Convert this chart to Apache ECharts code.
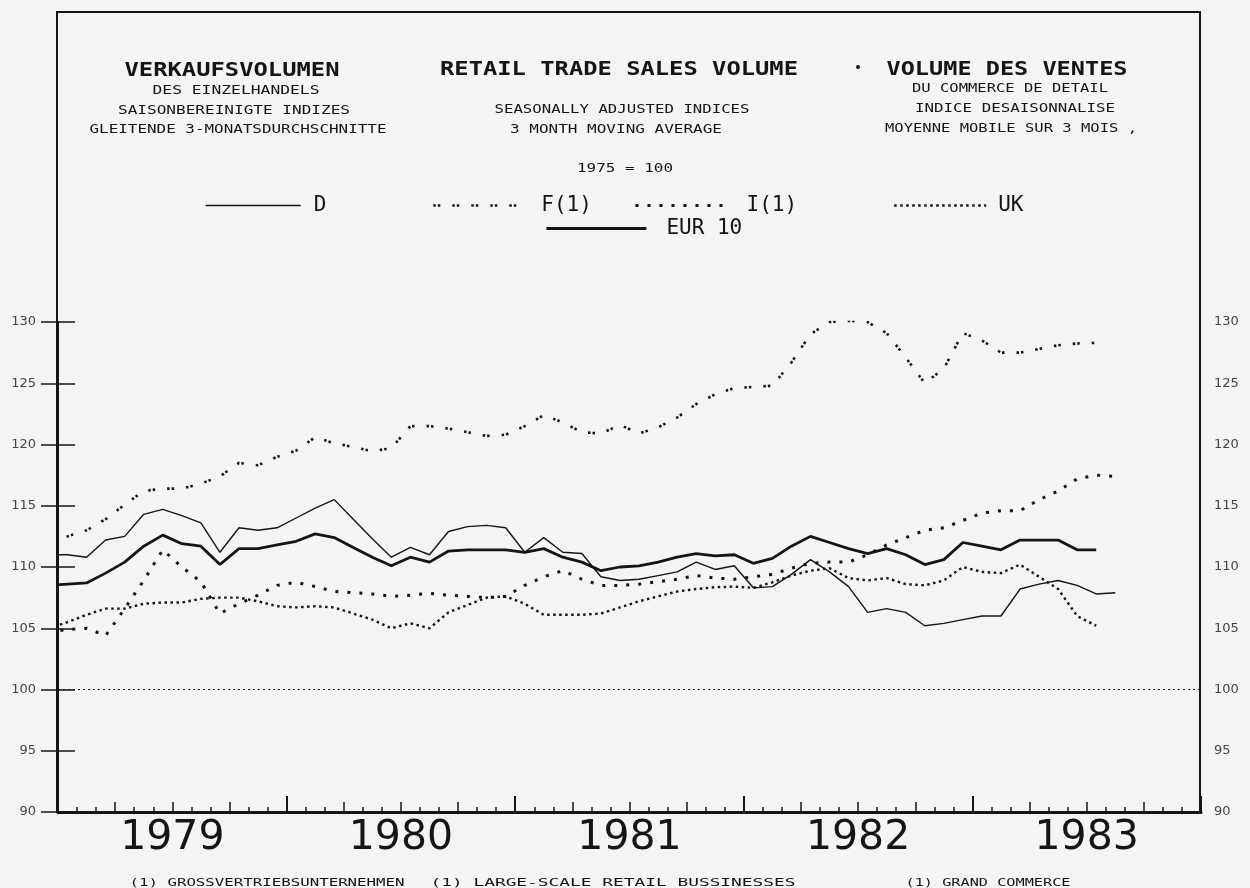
<!DOCTYPE html>
<html lang="en">
<head>
<meta charset="utf-8">
<title>Retail trade sales volume</title>
<script src="https://cdn.jsdelivr.net/npm/echarts@6/dist/echarts.min.js"></script>
<style>html,body{margin:0;padding:0;background:#f4f4f4;}</style>
</head>
<body>
<div id="main" style="width:1250px;height:888px;"></div>
<script>
// monthly points, mid-month; index 0 = Dec 1978, index 1 = Jan 1979 ...
var years = ['1979', '1980', '1981', '1982', '1983'];

var valuesD = [111.0, 111.0, 110.8, 112.2, 112.5, 114.3, 114.7, 114.2, 113.6, 111.2,
    113.2, 113.0, 113.2, 114.0, 114.8, 115.5, 113.9, 112.3, 110.8, 111.6,
    111.0, 112.9, 113.3, 113.4, 113.2, 111.2, 112.4, 111.2, 111.1, 109.2,
    108.9, 109.0, 109.3, 109.6, 110.4, 109.8, 110.1, 108.3, 108.4, 109.4,
    110.6, 109.6, 108.4, 106.3, 106.6, 106.3, 105.2, 105.4, 105.7, 106.0,
    106.0, 108.2, 108.6, 108.9, 108.5, 107.8, 107.9];

var valuesF = [112.0, 112.5, 113.0, 113.9, 115.1, 116.2, 116.4, 116.4, 116.8, 117.4,
    118.5, 118.3, 119.0, 119.5, 120.6, 120.1, 119.8, 119.45, 119.7, 121.5,
    121.5, 121.3, 121.0, 120.7, 120.8, 121.5, 122.4, 121.8, 121.0, 120.9,
    121.6, 120.9, 121.4, 122.2, 123.3, 124.1, 124.6, 124.7, 124.8, 126.7,
    129.0, 130.0, 130.1, 130.0, 129.1, 127.1, 125.0, 126.2, 129.1, 128.5,
    127.5, 127.5, 127.8, 128.1, 128.25, 128.3];

var valuesI = [104.7, 104.9, 105.0, 104.4, 106.6, 108.9, 111.4, 110.0, 108.8, 106.2,
    107.0, 107.7, 108.5, 108.75, 108.4, 108.0, 107.9, 107.8, 107.6, 107.7,
    107.85, 107.7, 107.6, 107.5, 107.6, 108.5, 109.2, 109.7, 109.0, 108.5,
    108.5, 108.6, 108.8, 109.0, 109.3, 109.1, 109.0, 109.2, 109.4, 109.9,
    110.3, 110.4, 110.4, 111.0, 111.8, 112.4, 113.0, 113.2, 113.8, 114.4,
    114.6, 114.6, 115.5, 116.2, 117.2, 117.5, 117.4];

var valuesUK = [105.0, 105.5, 106.1, 106.6, 106.6, 107.0, 107.1, 107.1, 107.4, 107.5,
    107.5, 107.2, 106.8, 106.7, 106.8, 106.7, 106.2, 105.7, 105.0, 105.4,
    105.0, 106.3, 106.9, 107.5, 107.6, 107.0, 106.1, 106.1, 106.1, 106.2,
    106.7, 107.2, 107.6, 108.0, 108.2, 108.35, 108.4, 108.3, 108.75, 109.3,
    109.7, 109.9, 109.1, 108.9, 109.1, 108.6, 108.5, 108.9, 110.0, 109.6,
    109.5, 110.2, 109.2, 108.2, 106.0, 105.2];

var valuesEUR = [108.5, 108.6, 108.7, 109.5, 110.4, 111.7, 112.6, 111.9, 111.7, 110.2,
    111.5, 111.5, 111.8, 112.1, 112.7, 112.4, 111.6, 110.8, 110.1, 110.8,
    110.4, 111.3, 111.4, 111.4, 111.4, 111.2, 111.5, 110.8, 110.4, 109.7,
    110.0, 110.1, 110.4, 110.8, 111.1, 110.9, 111.0, 110.3, 110.7, 111.7,
    112.5, 112.0, 111.5, 111.1, 111.5, 111.0, 110.2, 110.6, 112.0, 111.7,
    111.4, 112.2, 112.2, 112.2, 111.4, 111.4];

function toPoints(vals) {
    return vals.map(function (v, i) { return [i - 0.5, v]; });
}

var INK = '#151515';
var MONO = '"DejaVu Sans Mono", monospace';

// text stretched horizontally to a measured width
function txt(text, cx, cy, w, size, weight) {
    var natural = text.length * 0.602 * size;
    return {
        type: 'text', x: cx, y: cy, scaleX: w / natural, silent: true,
        style: {
            text: text, font: (weight || 'normal') + ' ' + size + 'px ' + MONO,
            fill: INK, textAlign: 'center', textVerticalAlign: 'middle', verticalAlign: 'middle'
        }
    };
}

function leg(name, left, top, w, lw, gap) {
    return {
        data: [name], left: left, top: top, itemWidth: w, itemHeight: 14, padding: 0,
        selectedMode: false, lineStyle: { width: lw }, itemStyle: { opacity: 0 },
        textStyle: { fontFamily: MONO, fontSize: 21, color: INK, padding: [0, 0, 0, gap] }
    };
}

function xTicks(interval, len, width) {
    return {
        type: 'value', position: 'bottom', min: 0, max: 60, interval: interval,
        axisLine: { show: false }, splitLine: { show: false }, axisLabel: { show: false },
        axisTick: { inside: true, length: len, lineStyle: { color: INK, width: width } }
    };
}

function yAxisAt(pos, margin) {
    return {
        type: 'value', position: pos, min: 90, max: 130, interval: 5,
        axisLine: { show: true, lineStyle: { color: INK, width: 2 } },
        axisTick: { inside: true, length: 17, lineStyle: { color: INK, width: 1.5 } },
        axisLabel: { margin: margin, fontFamily: 'DejaVu Sans', fontSize: 13, color: '#444' },
        splitLine: { show: false }
    };
}

var chart = echarts.init(document.getElementById('main'));

var option = {
    backgroundColor: '#f4f4f4',
    animation: false,
    grid: { left: 58, right: 49, top: 322, bottom: 76 },
    legend: [
        leg('D', 205, 195, 95, 1.4, 8),
        leg('F(1)', 432, 195, 93, 2.6, 10),
        leg('I(1)', 634, 195, 88, 3, 18),
        leg('UK', 893, 195, 92, 2.4, 7),
        leg('EUR 10', 545, 218, 100, 2.8, 15)
    ],
    xAxis: [
        {
            type: 'value', position: 'bottom', min: 0, max: 60, interval: 1,
            axisLine: { show: true, lineStyle: { color: INK, width: 3 } },
            axisTick: { inside: true, length: 5, lineStyle: { color: INK, width: 1.5 } },
            axisLabel: { show: false }, splitLine: { show: false }
        },
        xTicks(3, 10, 1.5),
        xTicks(12, 16, 2),
        {
            type: 'value', position: 'bottom', min: 0, max: 60, interval: 6,
            axisLine: { show: false }, axisTick: { show: false }, splitLine: { show: false },
            axisLabel: {
                margin: 6, fontFamily: 'DejaVu Sans', fontSize: 41, color: INK,
                formatter: function (v) { return v % 12 === 6 ? years[(v - 6) / 12] : ''; }
            }
        }
    ],
    yAxis: [yAxisAt('left', 22), yAxisAt('right', 13)],
    series: [
        {
            name: 'D', type: 'line', symbol: 'none', data: toPoints(valuesD),
            lineStyle: { color: INK, width: 1.4 }, itemStyle: { color: INK },
            markLine: {
                silent: true, symbol: 'none', label: { show: false },
                lineStyle: { color: INK, width: 1.2, type: [2, 3] },
                data: [{ yAxis: 100 }]
            }
        },
        {
            name: 'F(1)', type: 'line', symbol: 'none', data: toPoints(valuesF),
            lineStyle: { color: INK, width: 2.6, type: [2.5, 2, 2.5, 12] }, itemStyle: { color: INK }
        },
        {
            name: 'I(1)', type: 'line', symbol: 'none', data: toPoints(valuesI),
            lineStyle: { color: INK, width: 3, type: [3, 9] }, itemStyle: { color: INK }
        },
        {
            name: 'UK', type: 'line', symbol: 'none', data: toPoints(valuesUK),
            lineStyle: { color: INK, width: 2.4, type: [2.5, 3.5] }, itemStyle: { color: INK }
        },
        {
            name: 'EUR 10', type: 'line', symbol: 'none', data: toPoints(valuesEUR),
            lineStyle: { color: INK, width: 2.8 }, itemStyle: { color: INK }
        }
    ],
    graphic: [
        { type: 'rect', silent: true, shape: { x: 57, y: 12, width: 1143, height: 800 },
          style: { fill: 'none', stroke: INK, lineWidth: 2 } },
        txt('VERKAUFSVOLUMEN', 232, 71, 215, 19, 'bold'),
        txt('DES EINZELHANDELS', 236, 91, 167, 12),
        txt('SAISONBEREINIGTE INDIZES', 234, 111, 232, 12),
        txt('GLEITENDE 3-MONATSDURCHSCHNITTE', 238, 130, 297, 12),
        txt('RETAIL TRADE SALES VOLUME', 619, 70, 358, 19, 'bold'),
        txt('SEASONALLY ADJUSTED INDICES', 622, 110, 255, 12),
        txt('3 MONTH MOVING AVERAGE', 616, 130, 212, 12),
        txt('1975 = 100', 625, 169, 96, 12),
        { type: 'circle', silent: true, shape: { cx: 858, cy: 67, r: 2 }, style: { fill: INK } },
        txt('VOLUME DES VENTES', 1007, 70, 241, 19, 'bold'),
        txt('DU COMMERCE DE DETAIL', 1010, 89, 196, 12),
        txt('INDICE DESAISONNALISE', 1015, 109, 200, 12),
        txt('MOYENNE MOBILE SUR 3 MOIS ,', 1011, 129, 252, 12),
        txt('(1) GROSSVERTRIEBSUNTERNEHMEN', 267, 883, 275, 10),
        txt('(1) LARGE-SCALE RETAIL BUSSINESSES', 613, 883, 365, 10),
        txt('(1) GRAND COMMERCE', 988, 883, 165, 10)
    ]
};

chart.setOption(option);
</script>
</body>
</html>
